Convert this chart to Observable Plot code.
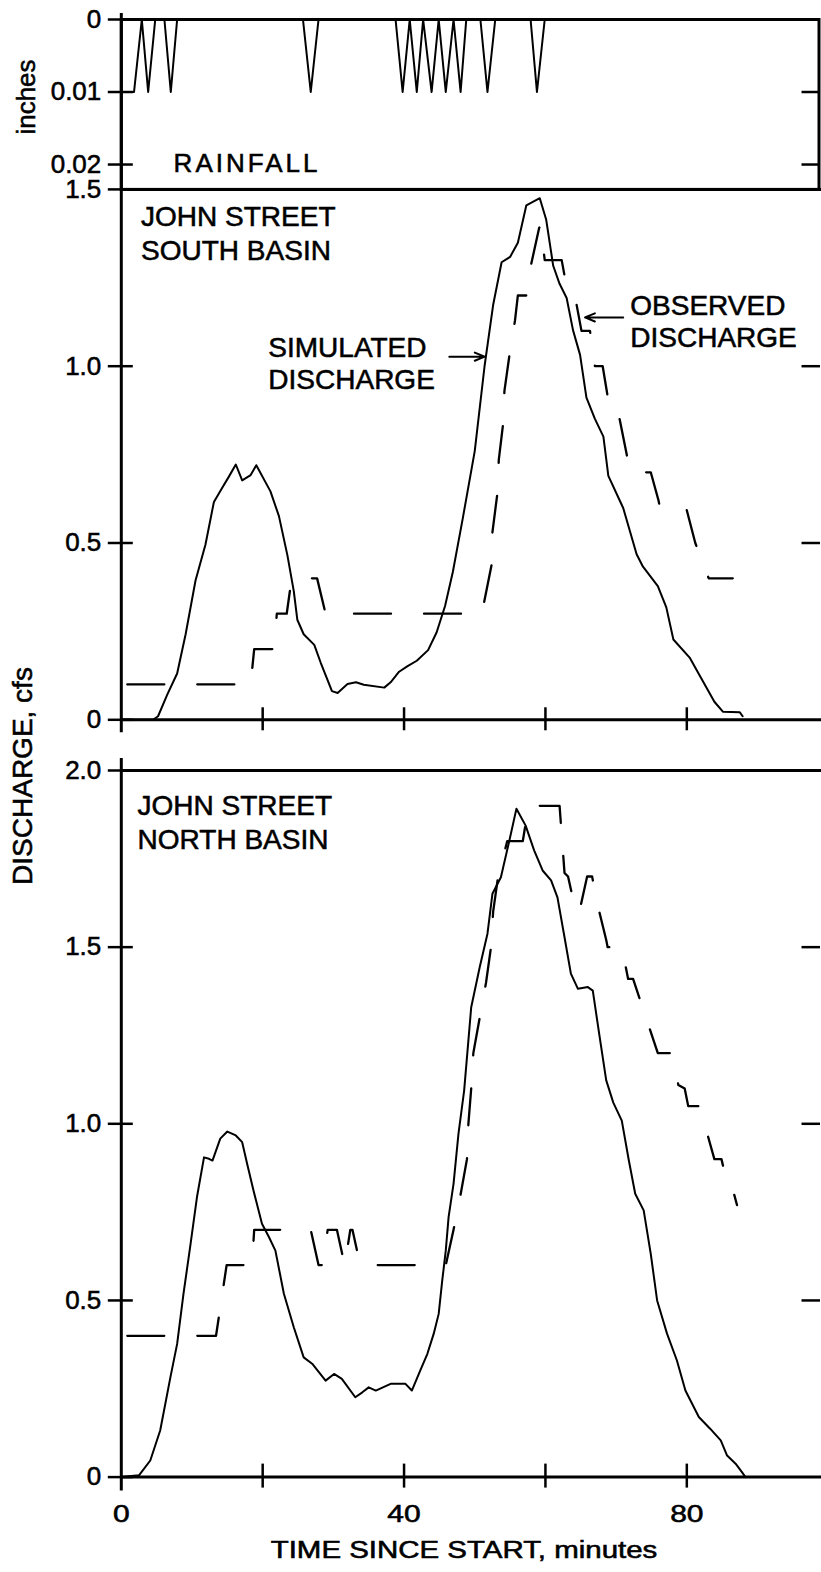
<!DOCTYPE html>
<html>
<head>
<meta charset="utf-8">
<script src="https://cdn.jsdelivr.net/npm/d3@7"></script>
<script src="https://cdn.jsdelivr.net/npm/@observablehq/plot@0.6"></script>
<style>
  html, body { margin: 0; padding: 0; background: #fff; }
  #chart { position: relative; width: 821px; height: 1572px; overflow: hidden;
           font-family: "Liberation Sans", Arial, Helvetica, sans-serif; color: #000; background: #fff; }
  #chart svg { position: absolute; left: 0; top: 0; overflow: visible; }
  #chart svg text { stroke: #000; stroke-width: 0.55px; }
  .lab { position: absolute; white-space: nowrap; line-height: 1; -webkit-text-stroke: 0.55px #000; }
</style>
</head>
<body>
<div id="chart"></div>
<script>
// ---- scales and ticks ----
const timeDomain = [0, 98.7];
const rainDomain = [0, 0.02343];
const southDomain = [0, 1.5];
const northDomain = [0, 2.0];

const minuteTicks = [20, 40, 60, 80];
const minuteLabels = [0, 40, 80];
const rainTicks = [0, 0.01, 0.02];
const rainRightTicks = [0.01, 0.02];
const southTicks = [0, 0.5, 1.0, 1.5];
const southRightTicks = [0.5, 1.0];
const northTicks = [0, 0.5, 1.0, 1.5, 2.0];
const northRightTicks = [0.5, 1.0, 1.5];

// ---- rainfall hyetograph (inches per interval) ----
const rainMinutes = [0, 1.8, 2.9, 3.8, 4.8, 6.1, 7.0, 7.9, 25.7, 26.8, 27.9, 38.8, 39.8, 40.8, 41.8, 42.7, 43.9, 44.9, 45.9, 47.0, 48.0, 48.8, 50.8, 51.8, 52.9, 57.9, 58.8, 59.9, 98.7];
const rainInches  = [0.01, 0.01, 0, 0.01, 0, 0, 0.01, 0, 0, 0.01, 0, 0, 0.01, 0, 0.01, 0, 0.01, 0, 0.01, 0, 0.01, 0, 0, 0.01, 0, 0, 0.01, 0, 0];

// ---- John Street south basin ----
const southSimMinutes = [0, 4.5, 5.2, 6.5, 7.9, 9.1, 10.5, 11.9, 13.1, 14.3, 15.2, 16.2, 17.1, 18.3, 19.1, 21.1, 22.3, 23.5, 24.4, 24.9, 25.8, 27.3, 28.2, 29.8, 30.6, 32.0, 33.2, 34.3, 37.2, 38.1, 39.3, 40.5, 41.8, 43.4, 44.6, 45.8, 46.9, 48.3, 50.0, 51.4, 52.6, 53.8, 55.0, 56.1, 57.3, 59.2, 60.1, 61.1, 62.0, 63.0, 63.9, 64.9, 65.8, 67.0, 68.2, 68.9, 71.0, 72.9, 73.8, 75.9, 77.1, 78.1, 80.4, 81.8, 83.9, 85.1, 87.5, 87.9];
const southSimCfs     = [0, 0, 0.01, 0.071, 0.131, 0.242, 0.394, 0.495, 0.616, 0.657, 0.687, 0.722, 0.677, 0.692, 0.720, 0.646, 0.576, 0.465, 0.364, 0.283, 0.242, 0.212, 0.162, 0.081, 0.076, 0.101, 0.106, 0.099, 0.091, 0.106, 0.136, 0.152, 0.167, 0.197, 0.247, 0.322, 0.418, 0.569, 0.760, 1.002, 1.173, 1.294, 1.309, 1.349, 1.455, 1.475, 1.415, 1.284, 1.233, 1.193, 1.102, 1.032, 0.911, 0.851, 0.801, 0.690, 0.599, 0.468, 0.433, 0.378, 0.318, 0.227, 0.176, 0.126, 0.051, 0.023, 0.021, 0.010];

const southObsMinutes = [0, 18.3, 18.8, 21.6, 22.0, 23.4, 24.1, 27.7, 28.9, 51.0, 52.4, 52.5, 53.2, 53.4, 54.0, 54.2, 54.9, 55.7, 56.1, 57.4, 58.0, 59.1, 59.3, 59.9, 62.3, 62.8, 64.4, 65.1, 66.3, 67.0, 68.1, 68.7, 68.9, 70.0, 70.5, 71.5, 72.0, 74.9, 76.0, 76.2, 79.9, 81.2, 82.3, 83.1, 86.5];
const southObsCfs     = [0.1, 0.1, 0.2, 0.2, 0.3, 0.3, 0.4, 0.4, 0.3, 0.3, 0.44, 0.53, 0.64, 0.735, 0.835, 0.93, 1.03, 1.13, 1.2, 1.2, 1.29, 1.39, 1.4, 1.3, 1.3, 1.245, 1.175, 1.1, 1.1, 1.0, 1.0, 0.927, 0.9, 0.9, 0.85, 0.75, 0.7, 0.7, 0.62, 0.6, 0.6, 0.5, 0.44, 0.4, 0.4];

// ---- John Street north basin ----
const northSimMinutes = [0, 2.5, 4.1, 5.5, 6.95, 7.9, 8.8, 9.8, 10.7, 11.7, 12.4, 12.9, 14.0, 15.0, 16.2, 17.1, 17.8, 18.7, 19.9, 20.9, 21.8, 23.0, 24.4, 25.8, 27.0, 28.9, 30.1, 31.2, 33.1, 34.1, 35.0, 36.0, 38.1, 40.2, 41.1, 42.3, 43.3, 44.2, 44.9, 45.4, 45.9, 46.3, 47.0, 47.7, 48.5, 49.5, 50.7, 51.8, 52.5, 53.7, 54.9, 55.9, 57.2, 58.4, 59.6, 60.8, 61.7, 62.7, 63.6, 64.6, 66.0, 66.7, 67.6, 68.6, 69.6, 70.8, 71.8, 72.7, 73.9, 74.9, 75.8, 77.2, 78.6, 79.8, 81.7, 83.3, 84.8, 85.7, 86.9, 87.8, 88.3];
const northSimCfs     = [0, 0.005, 0.047, 0.132, 0.283, 0.377, 0.519, 0.660, 0.792, 0.905, 0.901, 0.896, 0.958, 0.978, 0.967, 0.948, 0.887, 0.811, 0.717, 0.679, 0.641, 0.519, 0.424, 0.339, 0.321, 0.273, 0.292, 0.278, 0.226, 0.240, 0.254, 0.245, 0.264, 0.264, 0.245, 0.302, 0.349, 0.406, 0.462, 0.556, 0.641, 0.736, 0.830, 0.972, 1.094, 1.330, 1.443, 1.538, 1.651, 1.698, 1.802, 1.892, 1.844, 1.774, 1.717, 1.689, 1.641, 1.528, 1.425, 1.382, 1.387, 1.377, 1.255, 1.123, 1.060, 1.009, 0.896, 0.802, 0.755, 0.632, 0.500, 0.406, 0.330, 0.245, 0.170, 0.137, 0.104, 0.061, 0.038, 0.014, 0.0];

const northObsMinutes = [0, 13.4, 14.9, 18.5, 18.8, 26.8, 27.9, 28.4, 29.2, 30.5, 31.6, 32.4, 32.7, 33.8, 45.9, 47.0, 48.0, 48.9, 49.1, 49.5, 49.8, 50.7, 51.6, 52.3, 52.6, 53.3, 54.6, 56.8, 57.6, 62.0, 62.7, 63.2, 64.3, 64.8, 65.9, 66.6, 67.5, 68.6, 68.8, 70.8, 71.7, 72.4, 75.9, 77.9, 78.8, 79.7, 80.2, 81.8, 83.9, 84.9, 86.0, 86.7, 87.1];
const northObsCfs     = [0.4, 0.4, 0.6, 0.6, 0.7, 0.7, 0.6, 0.6, 0.7, 0.7, 0.6, 0.7, 0.7, 0.6, 0.6, 0.7, 0.8, 0.9, 1.0, 1.1, 1.2, 1.3, 1.4, 1.5, 1.6, 1.7, 1.8, 1.8, 1.9, 1.9, 1.71, 1.7, 1.6, 1.6, 1.7, 1.7, 1.61, 1.52, 1.5, 1.5, 1.41, 1.41, 1.2, 1.2, 1.11, 1.1, 1.05, 1.05, 0.9, 0.9, 0.807, 0.8, 0.77];

// ---- helpers ----
const pairs = (xs, ys) => xs.map((t, i) => ({t, v: ys[i]}));
const W = 821, H = 1572;
const FONT = '"Liberation Sans", Arial, Helvetica, sans-serif';
const ink = "#000";
const common = {
  width: W, height: H, marginLeft: 120.8, marginRight: 2.5,
  style: {fontFamily: FONT, fontSize: "26px", background: "transparent", color: ink, overflow: "visible"}
};
const xScale = {domain: timeDomain, axis: null};
const AX = 3;      // axis line weight
const TK = 2.5;    // tick weight
const observedDash = {strokeDasharray: "37,33", strokeDashoffset: 64};

// left crossing ticks and right inward ticks for a panel
function panelTicks(left, right) {
  return [
    Plot.ruleY(left, {x1: timeDomain[0], x2: timeDomain[0], insetLeft: -13, insetRight: -12, strokeWidth: TK, stroke: ink}),
    Plot.ruleY(right, {x1: timeDomain[1], x2: timeDomain[1], insetLeft: -17, insetRight: -1.5, strokeWidth: TK, stroke: ink})
  ];
}
const fmt = (digits) => (d) => d === 0 ? "0" : d.toFixed(digits);

// ---- rainfall panel ----
const rain = Plot.plot({
  ...common, marginTop: 19, marginBottom: H - 188.9,
  x: xScale,
  y: {domain: rainDomain, reverse: true, axis: null},
  marks: [
    Plot.frame({stroke: ink, strokeWidth: AX}),
    Plot.ruleX([timeDomain[0]], {insetTop: -6, strokeWidth: AX, stroke: ink}),
    ...panelTicks(rainTicks, rainRightTicks),
    Plot.line(pairs(rainMinutes, rainInches), {x: "t", y: "v", stroke: ink, strokeWidth: 2, curve: "linear"}),
    Plot.axisY(rainTicks, {tickSize: 0, tickPadding: 20, tickFormat: fmt(2), fontSize: 26, label: null}),
    Plot.text(["RAINFALL"], {x: 7.4, y: 0.01986, textAnchor: "start", lineAnchor: "middle", fontSize: 26, fill: ink, className: "rain-title"})
  ]
});
// the panel title is letter-spaced
d3.select(rain).selectAll("text").filter(function () { return this.textContent === "RAINFALL"; })
  .attr("letter-spacing", 3);

// ---- south basin panel ----
const south = Plot.plot({
  ...common, marginTop: 188.9, marginBottom: H - 719.3,
  x: xScale,
  y: {domain: southDomain, axis: null},
  marks: [
    Plot.ruleY([southDomain[1]], {insetRight: -3, strokeWidth: AX, stroke: ink}),
    Plot.ruleY([0], {insetRight: -3, strokeWidth: AX, stroke: ink}),
    Plot.ruleX([timeDomain[0]], {insetBottom: -13, strokeWidth: AX, stroke: ink}),
    Plot.ruleX(minuteTicks, {y1: 0, y2: 0, insetTop: -12, insetBottom: -11, strokeWidth: TK, stroke: ink}),
    ...panelTicks(southTicks, southRightTicks),
    Plot.line(pairs(southSimMinutes, southSimCfs), {x: "t", y: "v", stroke: ink, strokeWidth: 2}),
    Plot.line(pairs(southObsMinutes, southObsCfs), {x: "t", y: "v", stroke: ink, strokeWidth: 2.3, ...observedDash}),
    Plot.axisY(southTicks, {tickSize: 0, tickPadding: 20, tickFormat: fmt(1), fontSize: 26, label: null}),
    Plot.text(["JOHN STREET\nSOUTH BASIN"], {x: 2.8, y: 1.378, textAnchor: "start", lineAnchor: "middle", lineHeight: 1.2, fontSize: 28, fill: ink}),
    Plot.text(["SIMULATED\nDISCHARGE"], {x: 20.8, y: 1.009, textAnchor: "start", lineAnchor: "middle", lineHeight: 1.12, fontSize: 28, fill: ink}),
    Plot.text(["OBSERVED\nDISCHARGE"], {x: 72.0, y: 1.129, textAnchor: "start", lineAnchor: "middle", lineHeight: 1.15, fontSize: 28, fill: ink}),
    Plot.arrow([0], {x1: 46.4, y1: 1.027, x2: 51.4, y2: 1.027, stroke: ink, strokeWidth: 2, headAngle: 45}),
    Plot.arrow([0], {x1: 71.0, y1: 1.138, x2: 65.6, y2: 1.138, stroke: ink, strokeWidth: 2, headAngle: 45})
  ]
});

// ---- north basin panel ----
const north = Plot.plot({
  ...common, marginTop: 770, marginBottom: H - 1476.6,
  x: xScale,
  y: {domain: northDomain, axis: null},
  marks: [
    Plot.ruleY([northDomain[1]], {insetRight: -3, strokeWidth: AX, stroke: ink}),
    Plot.ruleY([0], {insetRight: -3, strokeWidth: AX, stroke: ink}),
    Plot.ruleX([timeDomain[0]], {insetTop: -12, insetBottom: -14, strokeWidth: AX, stroke: ink}),
    Plot.ruleX(minuteTicks, {y1: 0, y2: 0, insetTop: -13, insetBottom: -11, strokeWidth: TK, stroke: ink}),
    ...panelTicks(northTicks, northRightTicks),
    Plot.line(pairs(northSimMinutes, northSimCfs), {x: "t", y: "v", stroke: ink, strokeWidth: 2}),
    Plot.line(pairs(northObsMinutes, northObsCfs), {x: "t", y: "v", stroke: ink, strokeWidth: 2.3, ...observedDash}),
    Plot.axisY(northTicks, {tickSize: 0, tickPadding: 20, tickFormat: fmt(1), fontSize: 26, label: null}),
    Plot.axisX(minuteLabels, {tickSize: 0, tickPadding: 28, fontSize: 24, label: null, tickFormat: (d) => String(d)}),
    Plot.text(["JOHN STREET\nNORTH BASIN"], {x: 2.3, y: 1.857, textAnchor: "start", lineAnchor: "middle", lineHeight: 1.2, fontSize: 28, fill: ink})
  ]
});
// the printed time labels are set wide
d3.select(north).selectAll('g[aria-label="x-axis tick label"] text').each(function () {
  const t = this.getAttribute("transform") || "";
  this.setAttribute("transform", t + " scale(1.25,1)");
});

const chart = document.getElementById("chart");
chart.append(rain, south, north);

// axis titles
function label(text, cx, cy, size, transform) {
  const d = document.createElement("div");
  d.className = "lab";
  d.textContent = text;
  d.style.cssText = `left:${cx}px;top:${cy}px;font-size:${size}px;transform:translate(-50%,-50%) ${transform};`;
  chart.append(d);
}
label("inches", 26, 97, 26, "rotate(-90deg)");
label("DISCHARGE, cfs", 23, 776, 28, "rotate(-90deg)");
label("TIME SINCE START, minutes", 464, 1550, 23, "scaleX(1.28)");
</script>
</body>
</html>
